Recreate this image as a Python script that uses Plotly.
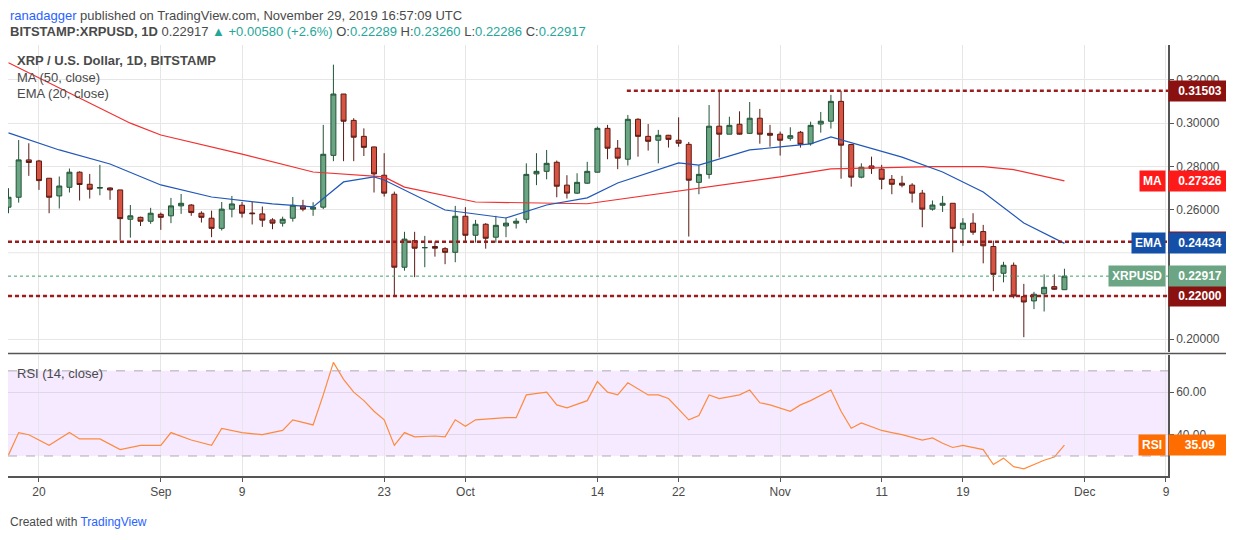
import pandas as pd
import plotly.graph_objects as go

# daily XRP/USD candles, Aug 17 - Nov 29 2019
start = pd.Timestamp("2019-08-17")
dates = pd.date_range(start, periods=105, freq="D")

opens = [0.2611, 0.2657, 0.2830, 0.2825, 0.2745, 0.2663, 0.2703, 0.2773, 0.2717, 0.2699,
         0.2700, 0.2691, 0.2555, 0.2564, 0.2546, 0.2578, 0.2571, 0.2617, 0.2621, 0.2583,
         0.2560, 0.2513, 0.2602, 0.2620, 0.2584, 0.2580, 0.2552, 0.2537, 0.2560, 0.2617,
         0.2602, 0.2611, 0.2851, 0.3135, 0.3013, 0.2939, 0.2890, 0.2759, 0.2671, 0.2333,
         0.2456, 0.2423, 0.2429, 0.2419, 0.2402, 0.2569, 0.2481, 0.2532, 0.2472, 0.2524,
         0.2537, 0.2555, 0.2765, 0.2777, 0.2819, 0.2713, 0.2676, 0.2722, 0.2773, 0.2976,
         0.2884, 0.2833, 0.3018, 0.2939, 0.2921, 0.2944, 0.2921, 0.2902, 0.2726, 0.2763,
         0.2986, 0.2949, 0.2995, 0.2953, 0.3023, 0.2953, 0.2949, 0.2930, 0.2958, 0.2905,
         0.2996, 0.3009, 0.3101, 0.2901, 0.2750, 0.2802, 0.2787, 0.2740, 0.2722, 0.2713,
         0.2676, 0.2602, 0.2620, 0.2629, 0.2510, 0.2537, 0.2498, 0.2429, 0.2305, 0.2342,
         0.2197, 0.2177, 0.2210, 0.2243, 0.22289]
highs = [0.2699, 0.2922, 0.2907, 0.2830, 0.2745, 0.2753, 0.2790, 0.2777, 0.2765, 0.2807,
         0.2703, 0.2691, 0.2621, 0.2567, 0.2608, 0.2586, 0.2654, 0.2672, 0.2625, 0.2592,
         0.2595, 0.2635, 0.2663, 0.2635, 0.2635, 0.2614, 0.2560, 0.2567, 0.2658, 0.2645,
         0.2634, 0.2992, 0.3271, 0.3135, 0.3023, 0.2976, 0.2891, 0.2861, 0.2683, 0.2497,
         0.2497, 0.2478, 0.2452, 0.2426, 0.2617, 0.2611, 0.2552, 0.2537, 0.2571, 0.2563,
         0.2560, 0.2814, 0.2861, 0.2876, 0.2827, 0.2759, 0.2768, 0.2821, 0.2984, 0.2992,
         0.2922, 0.3038, 0.3023, 0.2996, 0.2969, 0.2946, 0.3027, 0.2913, 0.2805, 0.3084,
         0.3151, 0.3030, 0.3055, 0.3098, 0.3066, 0.2992, 0.2961, 0.2981, 0.2964, 0.3007,
         0.3052, 0.3131, 0.3150, 0.2904, 0.2814, 0.2845, 0.2807, 0.2760, 0.2756, 0.2722,
         0.2691, 0.2642, 0.2663, 0.2629, 0.2560, 0.2583, 0.2529, 0.2456, 0.2358, 0.2355,
         0.2256, 0.2219, 0.2300, 0.2300, 0.23260]
lows = [0.2583, 0.2632, 0.2756, 0.2691, 0.2583, 0.2605, 0.2679, 0.2642, 0.2651, 0.2666,
        0.2645, 0.2456, 0.2470, 0.2524, 0.2534, 0.2506, 0.2537, 0.2580, 0.2571, 0.2540,
        0.2472, 0.2503, 0.2564, 0.2563, 0.2531, 0.2520, 0.2509, 0.2521, 0.2544, 0.2592,
        0.2571, 0.2602, 0.2824, 0.2824, 0.2824, 0.2848, 0.2679, 0.2660, 0.2202, 0.2317,
        0.2287, 0.2333, 0.2382, 0.2347, 0.2356, 0.2452, 0.2447, 0.2419, 0.2447, 0.2472,
        0.2512, 0.2537, 0.2713, 0.2740, 0.2657, 0.2651, 0.2672, 0.2719, 0.2771, 0.2833,
        0.2787, 0.2804, 0.2845, 0.2873, 0.2814, 0.2887, 0.2891, 0.2475, 0.2671, 0.2743,
        0.2841, 0.2949, 0.2947, 0.2950, 0.2905, 0.2891, 0.2850, 0.2919, 0.2887, 0.2896,
        0.2956, 0.2975, 0.2743, 0.2706, 0.2745, 0.2765, 0.2694, 0.2671, 0.2703, 0.2632,
        0.2518, 0.2595, 0.2589, 0.2402, 0.2432, 0.2483, 0.2351, 0.2222, 0.2263, 0.2189,
        0.2009, 0.2139, 0.2128, 0.2228, 0.22286]
closes = [0.2657, 0.2830, 0.2818, 0.2734, 0.2657, 0.2709, 0.2773, 0.2716, 0.2694, 0.2702,
          0.2691, 0.2558, 0.2571, 0.2546, 0.2583, 0.2564, 0.2617, 0.2629, 0.2586, 0.2564,
          0.2513, 0.2602, 0.2626, 0.2583, 0.2581, 0.2551, 0.2537, 0.2555, 0.2620, 0.2602,
          0.2611, 0.2856, 0.3135, 0.3009, 0.2935, 0.2888, 0.2765, 0.2676, 0.2333, 0.2463,
          0.2421, 0.2424, 0.2421, 0.2402, 0.2569, 0.2481, 0.2532, 0.2467, 0.2527, 0.2537,
          0.2546, 0.2763, 0.2777, 0.2814, 0.2708, 0.2676, 0.2726, 0.2777, 0.2976, 0.2884,
          0.2838, 0.3018, 0.2939, 0.2916, 0.2944, 0.2925, 0.2907, 0.2736, 0.2763, 0.2986,
          0.2949, 0.2990, 0.2949, 0.3023, 0.2949, 0.2944, 0.2921, 0.2942, 0.2902, 0.2990,
          0.3009, 0.3101, 0.2898, 0.2750, 0.2796, 0.2790, 0.2740, 0.2717, 0.2713, 0.2676,
          0.2602, 0.2621, 0.2629, 0.2513, 0.2537, 0.2495, 0.2432, 0.2300, 0.2342, 0.2200,
          0.2172, 0.2208, 0.2240, 0.2231, 0.22917]

# indicator lines (day offset from Aug 17, value)
ma_days = [0, 12, 15, 23, 30, 37, 39, 46, 57, 66, 76, 81, 91, 96, 99, 104]
ma_vals = [0.3280, 0.3000, 0.2945, 0.2857, 0.2774, 0.2751, 0.2704, 0.2635, 0.2627, 0.2686,
           0.2751, 0.2788, 0.2799, 0.2799, 0.2785, 0.27326]
ema_days = [0, 5, 10, 15, 20, 26, 30, 33, 36, 37, 43, 49, 53, 57, 60, 66, 68, 73, 76, 79,
            81, 88, 92, 96, 100, 104]
ema_vals = [0.2955, 0.2876, 0.2811, 0.2714, 0.2658, 0.2626, 0.2612, 0.2728, 0.2751, 0.2737,
            0.2598, 0.2561, 0.2621, 0.2654, 0.2723, 0.2816, 0.2806, 0.2876, 0.2890, 0.2904,
            0.2936, 0.2843, 0.2774, 0.2681, 0.2538, 0.24434]
rsi_days = [0, 1, 2, 4, 6, 7, 9, 11, 13, 15, 16, 18, 20, 21, 23, 25, 27, 28, 30, 31, 32, 33,
            34, 35, 36, 37, 38, 39, 40, 42, 43, 44, 45, 46, 49, 50, 51, 53, 54, 55, 57, 58,
            59, 60, 61, 63, 64, 65, 67, 68, 69, 70, 72, 73, 74, 75, 77, 78, 79, 81, 82, 83,
            84, 86, 87, 88, 90, 91, 92, 93, 94, 96, 97, 98, 99, 100, 102, 103, 104]
rsi_vals = [30.5, 41, 40, 35, 41, 38, 38, 33, 35, 35, 41, 37.5, 35, 43, 41, 40, 42, 47, 44.6,
            58.7, 74, 66, 60, 56, 51, 47, 35, 41, 39, 39.4, 39, 47, 44, 47, 48, 48, 58.7, 60,
            54, 52.6, 56, 65, 60, 58.7, 64.4, 58.7, 58.7, 57, 47, 49, 58.7, 57, 58.7, 61, 55,
            54, 51, 54, 56, 61, 51, 43, 45.5, 42, 41, 40, 37.5, 38.5, 36, 34, 35, 33, 26, 29,
            25, 24, 28, 29.5, 35.09]

levels = [0.31503, 0.24508, 0.22000]
price_ticks = [0.20, 0.26, 0.28, 0.30, 0.32]
tick_dates = ["2019-08-20", "2019-09-01", "2019-09-09", "2019-09-23", "2019-10-01", "2019-10-14",
              "2019-10-22", "2019-11-01", "2019-11-11", "2019-11-19", "2019-12-01", "2019-12-09"]
tick_text = ["20", "Sep", "9", "23", "Oct", "14", "22", "Nov", "11", "19", "Dec", "9"]

TXT = "#4a4a4a"
GRID = "#e6e6e6"
FONT = "Liberation Sans"
LVL = "#9b1c1c"

def day(d):
    return start + pd.Timedelta(days=d)

fig = go.Figure()
fig.add_trace(go.Candlestick(
    x=dates, open=opens, high=highs, low=lows, close=closes, yaxis="y", xaxis="x",
    increasing=dict(fillcolor="#6ba583", line=dict(color="#225437", width=1)),
    decreasing=dict(fillcolor="#d75442", line=dict(color="#5b1a13", width=1)),
    whiskerwidth=0, showlegend=False))
fig.add_trace(go.Scatter(x=[day(d) for d in ma_days], y=ma_vals, mode="lines",
                         line=dict(color="#f23030", width=1.2), showlegend=False))
fig.add_trace(go.Scatter(x=[day(d) for d in ema_days], y=ema_vals, mode="lines",
                         line=dict(color="#2157b8", width=1.2), showlegend=False))
fig.add_trace(go.Scatter(x=[day(d) for d in rsi_days], y=rsi_vals, mode="lines", yaxis="y2",
                         line=dict(color="#ff8a3d", width=1.2), showlegend=False))

x0 = start - pd.Timedelta(days=0.05)
x1 = start + pd.Timedelta(days=114.2)

shapes = []
# support / resistance lines
shapes.append(dict(type="line", xref="x", yref="y", x0=day(60.9), x1=x1, y0=levels[0], y1=levels[0],
                   line=dict(color=LVL, width=2.5, dash="4px,3px")))
for lv in levels[1:]:
    shapes.append(dict(type="line", xref="paper", yref="y", x0=0, x1=1, y0=lv, y1=lv,
                       line=dict(color=LVL, width=2.5, dash="4px,3px")))
shapes.append(dict(type="line", xref="paper", yref="y", x0=0, x1=1, y0=closes[-1], y1=closes[-1],
                   line=dict(color="#3f9e6a", width=1, dash="dot")))
# grid lines hidden under the level labels
for lv in (0.22, 0.24):
    shapes.append(dict(type="line", xref="paper", yref="y", x0=0, x1=1, y0=lv, y1=lv,
                       line=dict(color=GRID, width=1), layer="below"))
# RSI band
shapes.append(dict(type="rect", xref="paper", yref="y2", x0=0, x1=1, y0=30, y1=70,
                   fillcolor="rgba(153,51,255,0.1)", line=dict(width=0), layer="below"))
for lv in (30, 70):
    shapes.append(dict(type="line", xref="paper", yref="y2", x0=0, x1=1, y0=lv, y1=lv,
                       line=dict(color="#b0a8b8", width=1, dash="dash")))
# pane separator
shapes.append(dict(type="line", xref="paper", yref="paper", x0=0, x1=1.057, y0=0.2845, y1=0.2845,
                   line=dict(color="#555", width=1.5)))

ann = []
def box(y, text, bg, yref="y", x=1.0, anchor="left"):
    ann.append(dict(x=x, y=y, xref="paper", yref=yref, text="<b>" + text + "</b>", showarrow=False,
                    xanchor=anchor, yanchor="middle", bgcolor=bg, font=dict(color="white", size=12, family=FONT),
                    borderpad=3, width=56 if anchor == "left" else None))

box(levels[0], "0.31503", "#8b1010")
box(levels[1], "0.24508", "#8b1010")
box(levels[2], "0.22000", "#8b1010")
box(ma_vals[-1], "0.27326", "#ff1a1a")
box(ma_vals[-1], "MA", "#ff1a1a", x=0.998, anchor="right")
box(ema_vals[-1], "0.24434", "#1450a8")
box(ema_vals[-1], "EMA", "#1450a8", x=0.998, anchor="right")
box(closes[-1], "0.22917", "#6ba583")
box(closes[-1], "XRPUSD", "#6ba583", x=0.998, anchor="right")
box(rsi_vals[-1], "35.09", "#ff6d00", yref="y2")
box(rsi_vals[-1], "RSI", "#ff6d00", yref="y2", x=0.998, anchor="right")

def text(x, y, t, size=13, color=TXT):
    ann.append(dict(x=x, y=y, xref="paper", yref="paper", text=t, showarrow=False, xanchor="left",
                    yanchor="middle", font=dict(size=size, color=color, family=FONT)))

text(0.0, 1.068, "<span style='color:#2962ff'>ranadagger</span> published on TradingView.com, November 29, 2019 16:57:09 UTC")
text(0.0, 1.031, "<b>BITSTAMP:XRPUSD, 1D</b> 0.22917 <span style='color:#26a69a'>▲ +0.00580 (+2.6%)</span> "
     "O:<span style='color:#26a69a'>0.22289</span> H:<span style='color:#26a69a'>0.23260</span> "
     "L:<span style='color:#26a69a'>0.22286</span> C:<span style='color:#26a69a'>0.22917</span>")
text(0.006, 1.0 - 15 / 431, "<b>XRP / U.S. Dollar, 1D, BITSTAMP</b>")
text(0.006, 1.0 - 32 / 431, "MA (50, close)")
text(0.006, 1.0 - 49 / 431, "EMA (20, close)")
text(0.006, (476 - 373) / 431, "RSI (14, close)")
text(0.0, -0.107, "Created with <span style='color:#2962ff'>TradingView</span>", size=12)

fig.update_layout(
    width=1234, height=540, margin=dict(l=0, r=74, t=37, b=72),
    paper_bgcolor="white", plot_bgcolor="white",
    font=dict(family=FONT, color=TXT, size=12),
    shapes=shapes, annotations=ann, hovermode=False,
    xaxis=dict(type="date", range=[x0, x1], rangeslider=dict(visible=False), anchor="y2",
               tickvals=tick_dates, ticktext=tick_text, showgrid=True, gridcolor=GRID,
               showline=True, linecolor="#555", linewidth=1.5, ticks="outside", ticklen=4,
               tickcolor="#555"),
    yaxis=dict(domain=[0.288, 1], range=[0.1941, 0.3362], side="right", tickvals=price_ticks,
               tickformat=".5f", showgrid=True, gridcolor=GRID, showline=True, linecolor="#555",
               linewidth=1.5, ticks="outside", ticklen=4, tickcolor="#555", zeroline=False),
    yaxis2=dict(domain=[0, 0.281], range=[20.6, 77.5], side="right", tickvals=[40, 60],
                tickformat=".2f", showgrid=True, gridcolor="#e2d6ea", showline=True, linecolor="#555",
                linewidth=1.5, ticks="outside", ticklen=4, tickcolor="#555", zeroline=False),
)

fig.write_html("out.html")
